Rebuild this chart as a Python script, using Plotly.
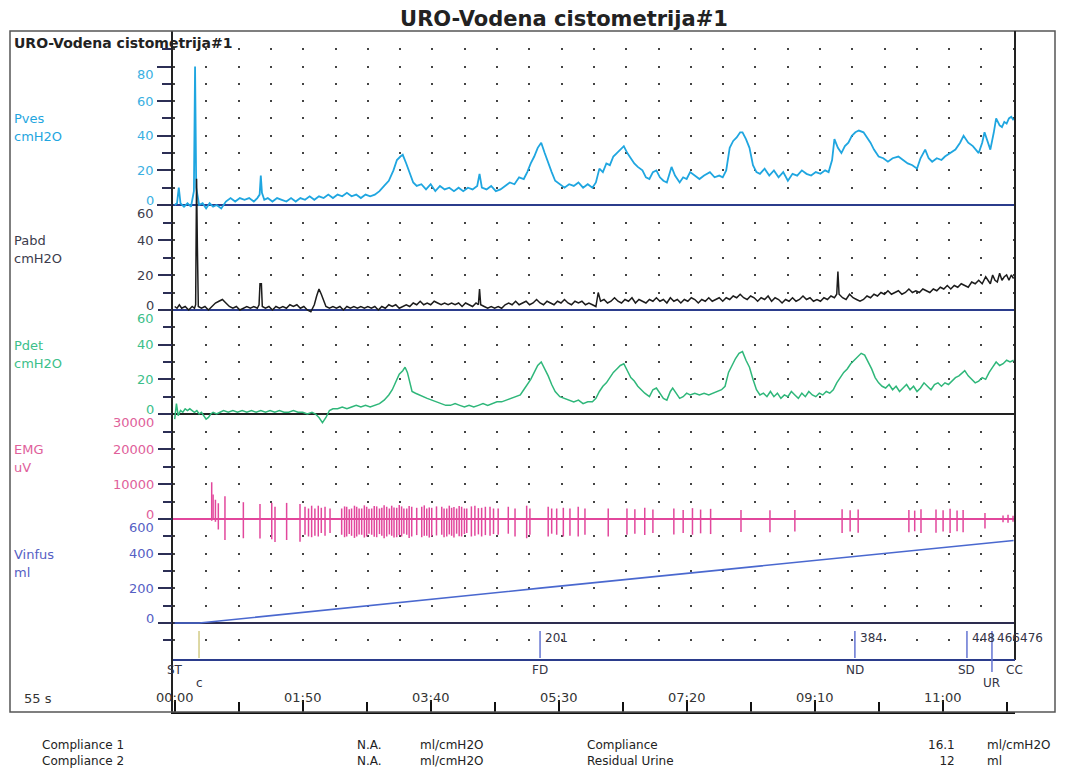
import plotly.graph_objects as go

# ---------------- data ----------------
# Pressures in cmH2O vs. time in seconds
PVES = [(0,0),(2,1),(3.5,10),(5,1),(8,-1),(11,1),(14,-1),(16.5,8),(17.5,80),(18.5,10),(21,0),(24,1),(27,-2),(30,1),(33,-1),(36,0),(40,-2),(44,2),(48,4),(52,2),(56,4),(60,3),(64,4),(68,2),(71,4),(73,6),(74,17),(75,7),(77,3),(80,4),(84,2),(88,4),(92,3),(96,2),(100,4),(104,2),(108,4),(112,3),(116,5),(120,3),(124,5),(128,4),(132,6),(136,4),(140,6),(144,5),(148,7),(152,5),(156,6),(160,4),(164,6),(168,5),(172,6),(176,8),(180,11),(184,14),(188,20),(191,26),(194,28),(196,29),(199,24),(202,18),(205,13),(208,11),(212,12),(216,9),(220,12),(224,8),(228,11),(232,9),(236,10),(240,8),(244,10),(248,8),(252,10),(256,9),(260,11),(262,18),(264,10),(268,9),(272,11),(276,8),(280,9),(284,11),(288,13),(292,12),(296,16),(300,15),(303,19),(306,24),(309,28),(312,33),(315,36),(318,30),(321,24),(324,19),(327,14),(331,12),(335,10),(339,12),(343,11),(347,13),(351,10),(355,12),(359,10),(362,13),(365,21),(368,19),(371,24),(374,23),(377,28),(380,30),(383,32),(386,34),(389,30),(392,27),(395,24),(398,22),(402,20),(405,16),(408,15),(411,19),(414,20),(417,16),(420,14),(423,13),(427,22),(430,17),(434,13),(437,16),(440,15),(443,19),(447,17),(451,15),(455,17),(460,19),(464,16),(468,17),(471,16),(474,20),(477,33),(480,37),(483,39),(486,42),(488,42),(491,38),(494,33),(497,23),(500,19),(503,18),(507,21),(511,17),(515,20),(519,16),(523,19),(527,14),(531,18),(535,17),(539,20),(543,18),(547,17),(551,19),(555,18),(559,20),(562,19),(565,26),(567,38),(570,33),(573,30),(576,34),(579,36),(582,40),(585,42),(588,43),(592,42),(595,39),(598,36),(601,32),(605,28),(609,27),(613,25),(617,27),(622,28),(626,26),(630,24),(634,23),(638,21),(641,27),(645,32),(648,27),(651,25),(655,27),(659,26),(662,28),(666,30),(671,32),(675,36),(678,40),(682,36),(686,34),(691,30),(694,36),(696,42),(699,36),(701,32),(704,42),(706,50),(709,46),(711,45),(713,48),(715,47),(717,50),(719,51),(721,49)]

PABD = [(0,2),(2,1),(4,3),(6,1),(9,2),(12,0),(15,2),(17,1),(18,3),(18.8,75),(19.5,36),(20.3,2),(23,1),(26,2),(29,0),(32,2),(35,4),(38,5),(41,6),(44,4),(47,2),(50,1),(53,2),(56,0),(59,1),(62,2),(65,1),(68,2),(71,1),(72.5,3),(73.3,15),(74.5,15),(75.3,2),(78,1),(81,2),(84,0),(87,2),(90,1),(93,2),(96,1),(99,3),(102,2),(105,3),(108,1),(111,2),(114,0),(117,-1),(120,3),(122,8),(124,12),(126,9),(128,5),(130,2),(133,1),(136,2),(139,1),(142,2),(145,0),(148,2),(151,1),(154,2),(157,1),(160,2),(163,1),(166,2),(169,1),(172,2),(175,0),(178,2),(181,1),(184,3),(187,2),(190,3),(193,1),(196,2),(199,3),(202,2),(205,4),(208,3),(211,5),(214,3),(217,4),(220,3),(223,5),(226,4),(229,3),(232,4),(235,3),(238,4),(241,3),(244,4),(247,2),(250,4),(253,3),(256,2),(259,4),(261,3),(262,12),(263,3),(266,2),(269,1),(272,2),(275,1),(278,2),(281,1),(284,3),(287,4),(290,3),(293,5),(296,3),(299,4),(302,5),(305,3),(308,4),(311,6),(314,4),(317,3),(320,5),(323,4),(326,3),(329,5),(332,4),(335,6),(338,4),(341,3),(344,5),(347,4),(350,5),(353,3),(356,4),(359,3),(362,2),(364,10),(366,5),(369,6),(372,4),(375,5),(378,7),(381,5),(384,4),(387,6),(390,5),(393,7),(396,4),(399,6),(402,5),(405,4),(408,6),(411,5),(414,7),(417,5),(420,6),(423,4),(426,7),(429,5),(432,6),(435,4),(438,6),(441,5),(444,7),(447,6),(450,4),(453,6),(456,5),(459,7),(462,5),(465,6),(468,7),(471,5),(474,7),(477,6),(480,8),(483,7),(486,9),(489,7),(492,6),(495,8),(498,7),(501,5),(504,7),(507,6),(510,8),(513,5),(516,7),(519,6),(522,4),(525,6),(528,5),(531,7),(534,5),(537,6),(540,8),(543,6),(546,7),(549,5),(552,6),(555,5),(558,7),(561,6),(564,8),(567,7),(569,9),(570,22),(571,9),(574,7),(577,6),(580,9),(583,7),(586,6),(589,5),(592,6),(595,8),(598,7),(601,9),(604,8),(607,10),(610,9),(613,11),(616,9),(619,10),(622,11),(625,9),(628,10),(631,12),(634,10),(637,11),(640,10),(643,12),(646,11),(649,10),(652,12),(655,11),(658,13),(661,12),(664,14),(667,12),(670,14),(673,13),(676,15),(679,14),(682,13),(685,16),(688,15),(691,17),(694,15),(697,19),(699,17),(701,15),(703,20),(705,17),(707,16),(709,21),(711,17),(713,19),(715,20),(717,17),(719,20),(721,18)]

PDET = [(0,-3),(1.5,6),(3,-1),(5,2),(7,1),(9,3),(11,2),(13,3),(15,2),(17,1),(19,2),(21,0),(23,1),(25,-1),(27,-3),(29,-2),(31,0),(33,1),(36,0),(39,1),(42,2),(46,1),(50,2),(54,1),(58,2),(62,1),(66,2),(70,1),(74,2),(78,1),(82,2),(86,1),(90,2),(94,1),(98,1),(102,2),(106,1),(110,1),(114,0),(118,1),(121,0),(124,-2),(127,-5),(130,-2),(133,2),(136,3),(140,3),(144,4),(148,3),(152,4),(156,5),(160,4),(164,5),(168,4),(172,5),(176,6),(180,8),(184,11),(187,14),(190,19),(193,23),(196,25),(198,27),(200,24),(202,18),(204,13),(207,12),(210,11),(213,10),(217,9),(221,8),(225,7),(229,6),(233,5),(237,5),(241,6),(245,5),(249,4),(253,5),(257,4),(261,5),(265,6),(269,5),(273,6),(277,7),(281,7),(285,8),(289,9),(293,10),(297,11),(300,14),(303,17),(306,20),(309,24),(312,28),(315,30),(318,26),(321,22),(324,17),(327,13),(331,10),(335,9),(339,8),(343,7),(347,8),(351,6),(355,7),(359,7),(362,9),(365,13),(368,16),(371,18),(374,21),(377,24),(380,26),(383,28),(386,29),(389,25),(392,21),(395,19),(398,16),(401,14),(404,12),(408,10),(411,14),(414,15),(417,12),(420,9),(423,8),(426,13),(428,15),(431,12),(434,9),(437,10),(440,12),(443,11),(447,12),(451,11),(455,12),(459,11),(463,12),(467,13),(470,14),(473,16),(476,24),(479,28),(482,32),(485,35),(488,36),(491,31),(494,27),(497,20),(500,14),(503,11),(506,12),(509,10),(512,13),(515,10),(518,12),(521,9),(524,11),(527,10),(530,13),(533,11),(536,9),(539,12),(542,10),(545,13),(548,11),(551,10),(554,12),(557,11),(560,13),(563,12),(566,14),(569,18),(572,21),(575,24),(578,26),(581,29),(584,31),(587,33),(590,35),(593,34),(596,30),(599,26),(602,21),(605,18),(608,16),(611,15),(614,17),(617,14),(620,16),(623,13),(626,15),(629,17),(632,14),(635,16),(638,13),(641,15),(644,18),(647,16),(650,14),(653,17),(656,18),(659,16),(662,18),(665,17),(668,19),(671,21),(674,22),(677,24),(679,25),(682,22),(685,20),(688,18),(691,19),(694,21),(697,20),(700,24),(703,27),(706,30),(709,28),(712,29),(715,31),(718,30),(721,31)]

# EMG bursts: (time s, upper excursion uV, lower excursion uV)
EMG_SPIKES = [
    (31.8, 10500, -500), (33.0, 7000, 0), (35.0, 5500, -800), (37.5, 4500, -3000), (43.2, 6500, -6000),
    (59.0, 4800, -5500), (73.3, 4300, -5600), (83.4, 4600, -5800), (86.2, 3500, -6600), (96.2, 4600, -6000),
    (107.7, 4300, -6500), (112.0, 3500, -4500), (115.0, 3000, -5000), (117.7, 3800, -5200), (120.5, 3000, -4800),
    (123.4, 3800, -5000), (126.0, 3200, -4000), (129.2, 3500, -4800), (133.5, 3000, -4000),
    (143.5, 3000, -4500), (146.0, 3600, -5200), (147.8, 3500, -5000), (150.0, 2800, -4300), (152.0, 3000, -4800),
    (154.5, 3800, -5400), (156.4, 3500, -5000), (158.5, 3000, -4400), (160.7, 3000, -4500), (163.0, 3900, -5300),
    (165.0, 3500, -5000), (167.0, 2900, -4200), (169.3, 3000, -4500), (171.5, 3700, -5100), (173.6, 3600, -5200),
    (176.0, 3000, -4300), (178.0, 3200, -4800), (180.0, 3900, -5500), (182.2, 3500, -5000), (184.5, 3000, -4400),
    (186.5, 3800, -4800), (188.5, 3300, -5300), (190.8, 3200, -5200), (193.0, 4000, -4600), (195.0, 3600, -5000),
    (197.0, 3000, -4200), (199.4, 3000, -4500), (201.5, 3700, -5400), (203.7, 3500, -5000), (208.0, 3200, -4600),
    (212.3, 3500, -5200), (214.5, 3900, -4800), (216.6, 3000, -4800), (218.8, 3300, -5300), (220.9, 3200, -5000),
    (225.0, 3600, -4700), (229.5, 3500, -4500), (231.5, 3000, -5200), (233.8, 3000, -5000), (236.0, 3800, -4400),
    (238.0, 3200, -4800), (240.0, 3400, -5300), (242.3, 3000, -4200), (244.5, 3700, -4900), (246.6, 3500, -5000),
    (249.0, 3000, -4300), (251.0, 3000, -4000), (255.0, 3600, -5000), (258.0, 3800, -4800), (261.0, 3100, -4400),
    (263.8, 3200, -5000), (267.0, 3500, -4600), (271.0, 3500, -4800), (274.0, 3000, -4300), (278.0, 3000, -4500),
    (286.7, 3500, -4200), (292.5, 3000, -5000), (302.5, 3800, -5500), (305.3, 3000, -4500), (321.0, 3500, -5000),
    (324.0, 3000, -4200), (328.3, 3000, -4500), (334.0, 3200, -5000), (339.7, 3000, -4800), (346.8, 3500, -5000),
    (352.6, 3000, -4500), (372.6, 3000, -5000),
    (388.7, 3000, -4500), (395.5, 2800, -4200), (404.0, 3200, -4600), (411.0, 2700, -4000), (429.0, 3000, -4400),
    (437.0, 2600, -4000), (445.0, 3100, -4500), (452.0, 2700, -4100), (460.6, 2900, -4300), (486.7, 2600, -3700),
    (511.6, 2500, -3800), (533.0, 2600, -3600), (573.6, 2800, -4000), (580.5, 2500, -3600), (587.4, 2700, -3900),
    (631.0, 2600, -3800), (636.0, 2400, -3500), (641.4, 2800, -4000), (654.3, 2700, -3900), (660.4, 2500, -3600),
    (666.4, 2900, -4000), (672.4, 2400, -3500), (677.6, 2600, -3800), (696.4, 1700, -2700), (711.9, 1000, -900),
    (716.2, 1200, -1100), (720.5, 900, -800),
]

# Infused volume (ml)
VINF_T = [0, 21, 314, 585, 681, 702, 721]
VINF_V = [0, 0, 201, 384, 448, 466, 476]

# Event markers
EVENT_NAMES = ["c", "FD", "ND", "SD", "UR", "CC"]
EVENT_T = [20.9, 314, 584.6, 680.9, 702.4, 722.0]
EVENT_VOL = [None, 201, 384, 448, 466, 476]

# Time axis
TIME_TICKS = [0, 110, 220, 330, 440, 550, 660]
TIME_LABELS = ["00:00", "01:50", "03:40", "05:30", "07:20", "09:10", "11:00"]
TIME_MINOR = [55, 165, 275, 385, 495, 605, 715]

# Footer table
FOOT_LEFT = ["Compliance 1", "Compliance 2"]
FOOT_LEFT_VAL = ["N.A.", "N.A."]
FOOT_LEFT_UNIT = ["ml/cmH2O", "ml/cmH2O"]
FOOT_RIGHT = ["Compliance", "Residual Urine"]
FOOT_RIGHT_VAL = ["16.1", "12"]
FOOT_RIGHT_UNIT = ["ml/cmH2O", "ml"]

# ---------------- geometry / style ----------------
W, H = 1084, 768
PL, PR, PT, PB = 173, 1015, 31, 712
FONT = "DejaVu Sans"
T_LEFT, T_RIGHT = -1.46, 722.2


def px(x):
    return (x - PL) / (PR - PL)


def py(y):
    return (PB - y) / (PB - PT)


def yrange(v_lo, p_lo, v_hi, p_hi):
    s = (p_lo - p_hi) / (v_hi - v_lo)
    return [v_lo - (PB - p_lo) / s, v_hi + (p_hi - PT) / s]


C_PVES = "#1fa6e0"
C_PABD = "#1c1c1c"
C_PDET = "#2fb77a"
C_EMG = "#e2479c"
C_VINF = "#4a68cf"
TICK = "#2c2f55"
DOT = "#444444"
DASH = "2px,30.3px"

fig = go.Figure()


def unzip(pairs):
    return [p[0] for p in pairs], [p[1] for p in pairs]


t, v = unzip(PVES)
fig.add_trace(go.Scatter(x=t, y=v, yaxis="y", mode="lines", line=dict(color=C_PVES, width=1.8), hoverinfo="skip"))
t, v = unzip(PDET)
fig.add_trace(go.Scatter(x=t, y=v, yaxis="y3", mode="lines", line=dict(color=C_PDET, width=1.5), hoverinfo="skip"))
# EMG drawn as vertical excursions
ex, ey = [], []
for (tt, up, dn) in EMG_SPIKES:
    ex += [tt, tt, None]
    ey += [dn, up, None]
fig.add_trace(go.Scatter(x=ex, y=ey, yaxis="y4", mode="lines", line=dict(color=C_EMG, width=1.5), hoverinfo="skip"))
fig.add_trace(go.Scatter(x=VINF_T, y=VINF_V, yaxis="y5", mode="lines", line=dict(color=C_VINF, width=1.6), hoverinfo="skip"))
t, v = unzip(PABD)
fig.add_trace(go.Scatter(x=t, y=v, yaxis="y2", mode="lines", line=dict(color=C_PABD, width=1.5), hoverinfo="skip"))


def yax(rng, major, minor, zcolor, zwidth=2, first=False):
    d = dict(
        range=rng, domain=[0, 1], anchor="x", side="left",
        tickmode="array", tickvals=major, ticks="outside", ticklen=14, tickwidth=2, tickcolor=TICK,
        showticklabels=False,
        showgrid=True, gridcolor=DOT, gridwidth=2, griddash=DASH,
        zeroline=True, zerolinecolor=zcolor, zerolinewidth=zwidth,
        minor=dict(tickmode="array", tickvals=minor, ticks="outside", ticklen=9, tickwidth=2, tickcolor=TICK,
                   showgrid=True, gridcolor=DOT, gridwidth=2, griddash=DASH),
        fixedrange=True,
    )
    if first:
        d.update(showline=True, linecolor="#222222", linewidth=2)
    else:
        d.update(overlaying="y", showline=False)
    return d


R_PVES = yrange(0, 205, 80, 66.5)
R_PABD = yrange(0, 310, 60, 205)
R_PDET = yrange(0, 414, 60, 310)
R_EMG = yrange(0, 519, 30000, 414)
R_VINF = yrange(0, 623, 600, 519)

fig.update_layout(
    width=W, height=H,
    margin=dict(l=PL, r=W - PR, t=PT, b=H - PB, pad=0),
    paper_bgcolor="white", plot_bgcolor="white",
    showlegend=False,
    font=dict(family=FONT, color="#333333"),
    title=dict(text="<b>URO-Vodena cistometrija#1</b>", x=564 / W, xanchor="center",
               y=1 - 19 / H, yanchor="middle", font=dict(family=FONT, size=21, color="#222222")),
    xaxis=dict(
        range=[T_LEFT, T_RIGHT], tickmode="array", tickvals=TIME_TICKS,
        ticks="inside", ticklen=12, tickwidth=2, tickcolor="#111111",
        showticklabels=False,
        showline=True, linecolor="#111111", linewidth=2, showgrid=False, zeroline=False,
        minor=dict(tickmode="array", tickvals=TIME_MINOR, ticks="inside", ticklen=10, tickwidth=2, tickcolor="#111111"),
        fixedrange=True,
    ),
    yaxis=yax(R_PVES, [0, 20, 40, 60, 80], [10, 30, 50, 70, 90], "#2b3c8c", first=True),
    yaxis2=yax(R_PABD, [0, 20, 40, 60], [10, 30, 50], "#2b3c8c"),
    yaxis3=yax(R_PDET, [0, 20, 40, 60], [10, 30, 50], "#222222"),
    yaxis4=yax(R_EMG, [0, 10000, 20000, 30000], [5000, 15000, 25000], C_EMG, zwidth=1.5),
    yaxis5=yax(R_VINF, [0, 200, 400, 600], [-100, 100, 300, 500], "#2d2d50"),
)

shapes = [
    dict(type="rect", xref="paper", yref="paper", x0=px(10), x1=px(1055), y0=py(712), y1=py(31),
         line=dict(color="#555555", width=1.5), layer="above"),
    dict(type="line", xref="paper", yref="paper", x0=1, x1=1, y0=py(660), y1=1,
         line=dict(color="#222222", width=2), layer="above"),
    dict(type="line", xref="paper", yref="paper", x0=0, x1=1, y0=py(660), y1=py(660),
         line=dict(color="#2b3c8c", width=2), layer="above"),
]
EV_COLORS = {"c": "#d2cb86", "CC": "#222222"}
for name, tt in zip(EVENT_NAMES, EVENT_T):
    y0 = py(672) if name == "UR" else py(658)
    shapes.append(dict(type="line", xref="x", yref="paper", x0=tt, x1=tt, y0=y0, y1=py(631),
                       line=dict(color=EV_COLORS.get(name, "#6474d2"), width=1.5), layer="above"))
fig.update_layout(shapes=shapes)

ann = []


def text(x, y, s, size=13, color="#333333", anchor="left", bold=False, xref="paper", yref="paper",
         yshift=0, xshift=0, align="left"):
    ann.append(dict(x=x, y=y, xref=xref, yref=yref, text=("<b>%s</b>" % s) if bold else s, showarrow=False,
                    xanchor=anchor, yanchor="middle", yshift=yshift, xshift=xshift, align=align,
                    font=dict(family=FONT, size=size, color=color)))


text(px(12), py(43), "URO-Vodena cistometrija#1", size=14, color="#222222", bold=True)

# channel names
CH = [("Pves", "cmH2O", 118, C_PVES), ("Pabd", "cmH2O", 240, "#3c3c4c"), ("Pdet", "cmH2O", 345, "#3cc08a"),
      ("EMG", "uV", 449, "#e0609a"), ("Vinfus", "ml", 554, "#5560c4")]
for n, u, yy, col in CH:
    text(px(12), py(yy), n, size=13, color=col)
    text(px(12), py(yy + 18), u, size=13, color=col)

# tick value labels
TL = [("y", [0, 20, 40, 60, 80], 80, "#3ab0e2"), ("y2", [0, 20, 40, 60], 60, "#3c3c4c"),
      ("y3", [0, 20, 40, 60], 60, "#3cc08a"), ("y4", [0, 10000, 20000, 30000], 30000, "#e0609a"),
      ("y5", [0, 200, 400, 600], 600, "#5560c4")]
for ax, vals, top, col in TL:
    for val in vals:
        sh = 5 if val == 0 else (-8 if val == top else 0)
        text(px(156), val, str(val), size=13, color=col, anchor="right", yref=ax, yshift=sh)

# time labels (tick passes through label like the printout)
for tt, lab in zip(TIME_TICKS, TIME_LABELS):
    text(tt, py(697), lab, size=13, color="#333333", anchor="center", xref="x")

# events
text(0, py(670), "ST", size=12, color="#333344", anchor="center", xref="x")
for name, tt, vol in zip(EVENT_NAMES, EVENT_T, EVENT_VOL):
    yy = 683 if name in ("c", "UR") else 670
    text(tt, py(yy), name, size=12, color="#333344", anchor="center", xref="x")
    if vol is not None:
        text(tt, py(638), str(vol), size=12, color="#333344", anchor="left", xref="x", xshift=3)

text(px(22), py(698), "55 s", size=13, color="#333333")

# footer (two-line blocks)
FOOT_Y = py(753)
text(px(40), FOOT_Y, "<br>".join(FOOT_LEFT), size=12, color="#222222")
text(px(355), FOOT_Y, "<br>".join(FOOT_LEFT_VAL), size=12, color="#222222")
text(px(418), FOOT_Y, "<br>".join(FOOT_LEFT_UNIT), size=12, color="#222222")
text(px(585), FOOT_Y, "<br>".join(FOOT_RIGHT), size=12, color="#222222")
text(px(957), FOOT_Y, "<br>".join(FOOT_RIGHT_VAL), size=12, color="#222222", anchor="right", align="right")
text(px(985), FOOT_Y, "<br>".join(FOOT_RIGHT_UNIT), size=12, color="#222222")

fig.update_layout(annotations=ann)

fig.write_html("out.html")
